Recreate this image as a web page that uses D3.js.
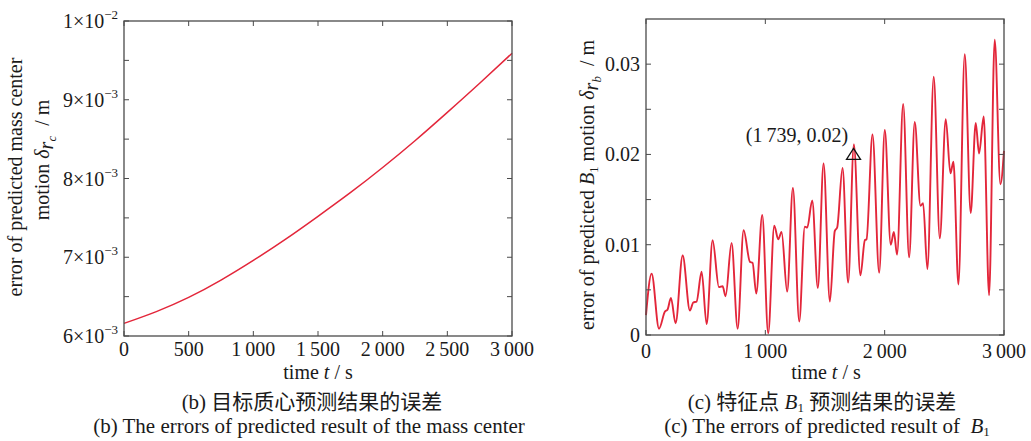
<!DOCTYPE html>
<html>
<head>
<meta charset="utf-8">
<script src="https://cdn.jsdelivr.net/npm/d3@7"></script>
<style>
    body { margin: 0; background: #fff; }
    svg text { font-family: "Liberation Serif", "Times New Roman", "Noto Sans CJK SC", serif; fill: #1a1a1a; }
    .tick-lbl { font-size: 20px; }
    .ax-title { font-size: 20px; }
    .caption { font-size: 21px; }
</style>
</head>
<body>
<svg id="chart" width="1031" height="441"></svg>
<script>
// (b) error of predicted mass center motion
const massT = [0, 250, 500, 750, 1000, 1250, 1500, 1750, 2000, 2250, 2500, 2750, 3000];
const massErr = [0.00616, 0.00631, 0.00649, 0.00671, 0.00696, 0.00723, 0.00752, 0.00782, 0.00814, 0.00848, 0.00884, 0.00921, 0.00959];
const massXTicks = [0, 500, 1000, 1500, 2000, 2500, 3000];
const massYTicks = [0.006, 0.0065, 0.007, 0.0075, 0.008, 0.0085, 0.009, 0.0095, 0.01];
const massYLabels = [[0.006, '6', '−3'], [0.007, '7', '−3'], [0.008, '8', '−3'], [0.009, '9', '−3'], [0.01, '1', '−2']];

// (c) error of predicted B1 motion
const b1T = [0, 47, 109, 159, 180, 209, 248, 307, 368, 396, 424, 466, 508, 558, 611, 642, 667, 717, 768, 818,
    871, 893, 924, 974, 1024, 1075, 1108, 1136, 1183, 1231, 1284, 1331, 1351, 1393, 1440, 1488, 1541, 1582, 1602,
    1647, 1694, 1742, 1797, 1834, 1848, 1898, 1954, 2001, 2051, 2077, 2104, 2155, 2205, 2252, 2300, 2322, 2358,
    2411, 2462, 2512, 2551, 2576, 2618, 2671, 2721, 2763, 2791, 2830, 2875, 2922, 2970, 3000];
const b1Err = [0.0022, 0.0068, 0.0007, 0.0026, 0.0028, 0.0041, 0.0013, 0.0088, 0.0027, 0.0036, 0.0037, 0.0070,
    0.0012, 0.0105, 0.0053, 0.0054, 0.0043, 0.0102, 0.0007, 0.0116, 0.0081, 0.0080, 0.0046, 0.0133, 0.0002,
    0.0121, 0.0106, 0.0114, 0.0048, 0.0163, 0.0015, 0.0120, 0.0119, 0.0149, 0.0052, 0.0190, 0.0037, 0.0115,
    0.0119, 0.0185, 0.0058, 0.0211, 0.0066, 0.0105, 0.0106, 0.0222, 0.0069, 0.0227, 0.0100, 0.0114, 0.0089,
    0.0256, 0.0086, 0.0236, 0.0143, 0.0146, 0.0073, 0.0286, 0.0107, 0.0239, 0.0179, 0.0192, 0.0056, 0.0311,
    0.0135, 0.0235, 0.0201, 0.0242, 0.0044, 0.0327, 0.0167, 0.0204];
const b1XTicks = [0, 1000, 2000, 3000];
const b1YTicks = [0, 0.005, 0.01, 0.015, 0.02, 0.025, 0.03];
const b1YLabels = [0, 0.01, 0.02, 0.03];
const markPoint = [1739, 0.02];

const lineColor = '#e3263a';
const frameColor = '#4a4a4a';
const NB = '\u00a0';
const svg = d3.select('#chart');

// thousands with a thin space, like "1 500"
function fmtThousands(d) {
    return d >= 1000 ? String(d).replace(/(\d)(\d{3})$/, '$1\u2009$2') : String(d);
}

// frame + inward ticks on all four sides
function drawFrame(x, y, xTicks, yTicks) {
    const [x0, x1] = x.range();
    const [y0, y1] = y.range();
    const g = svg.append('g').attr('stroke', frameColor).attr('fill', 'none');
    g.append('rect')
        .attr('x', x0).attr('y', y1)
        .attr('width', x1 - x0).attr('height', y0 - y1)
        .attr('stroke-width', 1.3);
    xTicks.forEach(t => {
        g.append('line').attr('x1', x(t)).attr('x2', x(t)).attr('y1', y0).attr('y2', y0 - 5);
        g.append('line').attr('x1', x(t)).attr('x2', x(t)).attr('y1', y1).attr('y2', y1 + 5);
    });
    yTicks.forEach(v => {
        g.append('line').attr('x1', x0).attr('x2', x0 + 5).attr('y1', y(v)).attr('y2', y(v));
        g.append('line').attr('x1', x1).attr('x2', x1 - 5).attr('y1', y(v)).attr('y2', y(v));
    });
}

function timeTitle(t) {
    t.append('tspan').text('time ');
    t.append('tspan').style('font-style', 'italic').text('t');
    t.append('tspan').text(' / s');
}

// ---------- left panel ----------
const xL = d3.scaleLinear().domain([0, 3000]).range([124, 512]);
const yL = d3.scaleLinear().domain([0.006, 0.01]).range([336, 21]);

svg.append('path')
    .datum(massT.map((t, i) => [t, massErr[i]]))
    .attr('fill', 'none')
    .attr('stroke', lineColor)
    .attr('stroke-width', 1.5)
    .attr('d', d3.line().x(d => xL(d[0])).y(d => yL(d[1])).curve(d3.curveNatural));

drawFrame(xL, yL, massXTicks, massYTicks);

massXTicks.forEach(t => {
    svg.append('text').attr('class', 'tick-lbl')
        .attr('x', xL(t)).attr('y', 356)
        .attr('text-anchor', 'middle')
        .text(fmtThousands(t));
});
massYLabels.forEach(([v, m, e]) => {
    const txt = svg.append('text').attr('class', 'tick-lbl')
        .attr('x', 118).attr('y', yL(v) + 7)
        .attr('text-anchor', 'end');
    txt.append('tspan').text(m + '×10');
    txt.append('tspan').attr('dy', -9).style('font-size', '13px').text(e);
});

svg.append('text').attr('class', 'ax-title')
    .attr('x', 318).attr('y', 379).attr('text-anchor', 'middle')
    .call(timeTitle);

svg.append('text').attr('class', 'ax-title')
    .attr('transform', 'translate(22,177) rotate(-90)')
    .attr('text-anchor', 'middle')
    .text('error of predicted mass center');
svg.append('text').attr('class', 'ax-title')
    .attr('transform', 'translate(49,160) rotate(-90)')
    .attr('text-anchor', 'middle')
    .call(t => {
        t.append('tspan').text('motion ');
        t.append('tspan').style('font-style', 'italic').text('δ');
        t.append('tspan').style('font-style', 'italic').attr('dy', 4).text('r');
        t.append('tspan').style('font-style', 'italic').style('font-size', '13px').attr('dy', 3).text('c');
        t.append('tspan').attr('dy', -7).text(NB + NB + '/ m');
    });

// ---------- right panel ----------
const xR = d3.scaleLinear().domain([0, 3000]).range([646, 1004]);
const yR = d3.scaleLinear().domain([0, 0.035]).range([335, 19]);

svg.append('path')
    .datum(b1T.map((t, i) => [t, b1Err[i]]))
    .attr('fill', 'none')
    .attr('stroke', lineColor)
    .attr('stroke-width', 1.9)
    .attr('stroke-linejoin', 'round')
    .attr('d', d3.line().x(d => xR(d[0])).y(d => yR(d[1])).curve(d3.curveMonotoneX));

drawFrame(xR, yR, b1XTicks, b1YTicks);

b1XTicks.forEach(t => {
    svg.append('text').attr('class', 'tick-lbl')
        .attr('x', xR(t)).attr('y', 358)
        .attr('text-anchor', 'middle')
        .text(fmtThousands(t));
});
b1YLabels.forEach(v => {
    svg.append('text').attr('class', 'tick-lbl')
        .attr('x', 640).attr('y', yR(v) + 7)
        .attr('text-anchor', 'end')
        .text(v === 0 ? '0' : d3.format('.2f')(v));
});

// annotated point
const mx = xR(markPoint[0]), my = yR(markPoint[1]);
svg.append('path')
    .attr('d', `M${mx},${my - 6}L${mx + 7},${my + 5}L${mx - 7},${my + 5}Z`)
    .attr('fill', 'none').attr('stroke', '#111').attr('stroke-width', 1.3);
svg.append('text').attr('class', 'tick-lbl')
    .attr('x', 797).attr('y', 142).attr('text-anchor', 'middle')
    .text(`(${fmtThousands(markPoint[0])}, ${markPoint[1].toFixed(2)})`);

svg.append('text').attr('class', 'ax-title')
    .attr('x', 826).attr('y', 379).attr('text-anchor', 'middle')
    .call(timeTitle);

svg.append('text').attr('class', 'ax-title')
    .attr('transform', 'translate(594,185) rotate(-90)')
    .attr('text-anchor', 'middle')
    .call(t => {
        t.append('tspan').text('error of predicted ');
        t.append('tspan').style('font-style', 'italic').text('B');
        t.append('tspan').style('font-size', '13px').attr('dy', 4).text('1');
        t.append('tspan').attr('dy', -4).text(' motion ');
        t.append('tspan').style('font-style', 'italic').text('δ');
        t.append('tspan').style('font-style', 'italic').attr('dy', 4).text('r');
        t.append('tspan').style('font-style', 'italic').style('font-size', '13px').attr('dy', 3).text('b');
        t.append('tspan').attr('dy', -7).text(NB + NB + '/ m');
    });

// ---------- captions ----------
svg.append('text').attr('class', 'caption')
    .attr('x', 312).attr('y', 409).attr('text-anchor', 'middle')
    .text('(b) 目标质心预测结果的误差');
svg.append('text').attr('class', 'caption')
    .attr('x', 309).attr('y', 433).attr('text-anchor', 'middle')
    .text('(b) The errors of predicted result of the mass center');

svg.append('text').attr('class', 'caption')
    .attr('x', 822).attr('y', 409).attr('text-anchor', 'middle')
    .call(t => {
        t.append('tspan').text('(c) 特征点 ');
        t.append('tspan').style('font-style', 'italic').text('B');
        t.append('tspan').style('font-size', '13px').attr('dy', 3).text('1');
        t.append('tspan').attr('dy', -3).text(' 预测结果的误差');
    });
svg.append('text').attr('class', 'caption')
    .attr('x', 827).attr('y', 433).attr('text-anchor', 'middle')
    .call(t => {
        t.append('tspan').text('(c) The errors of predicted result of' + NB + NB);
        t.append('tspan').style('font-style', 'italic').text('B');
        t.append('tspan').style('font-size', '13px').attr('dy', 3).text('1');
    });
</script>
</body>
</html>
